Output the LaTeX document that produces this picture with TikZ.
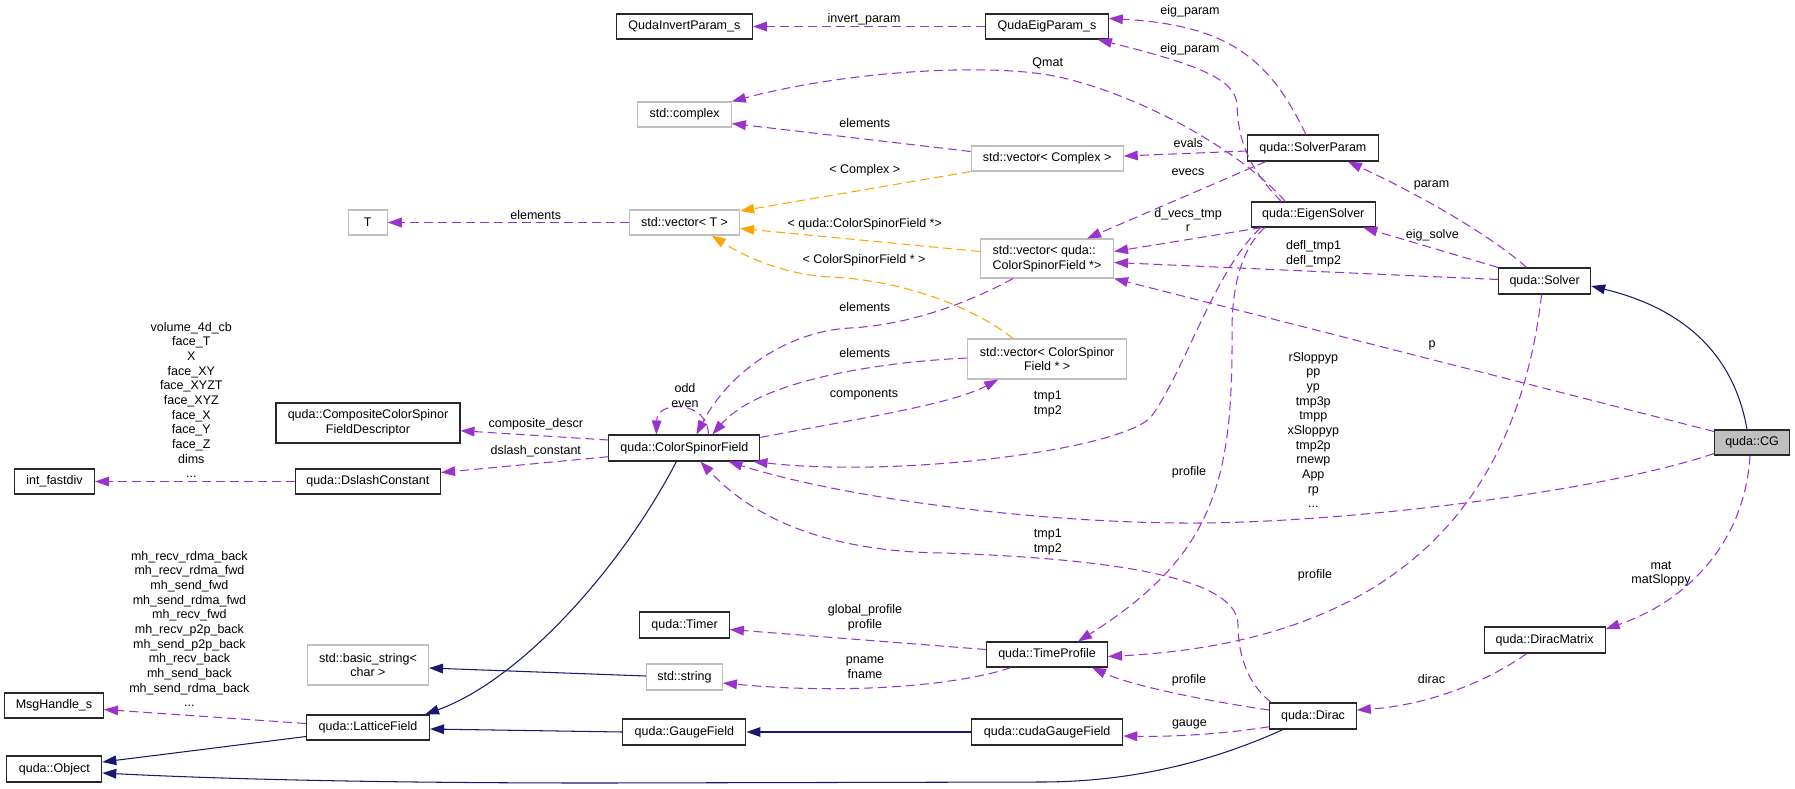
\documentclass[tikz,border=0pt]{standalone}
\usepackage{fontspec}
\setmainfont{Liberation Sans}
\usetikzlibrary{arrows.meta}
\definecolor{usec}{RGB}{154,50,205}
\definecolor{tmplc}{RGB}{255,165,0}
\definecolor{inhc}{RGB}{25,25,112}
\definecolor{grayb}{RGB}{191,191,191}
\definecolor{boxc}{RGB}{40,40,40}
\begin{document}
\begin{tikzpicture}[x=1pt,y=-1pt,
  cbox/.style={draw=boxc,line width=1.1pt,fill=white,inner sep=1pt,minimum height=25pt,
    font=\fontsize{12.5}{14.67}\selectfont,align=center},
  gbox/.style={cbox,draw=grayb},
  elbl/.style={inner sep=0pt,font=\fontsize{12.5}{14.67}\selectfont,align=center},
  usedge/.style={draw=usec,line width=1.05pt,dash pattern=on 9pt off 5pt,
    -{Triangle[length=14pt,width=10pt,fill=usec,line width=0pt]}},
  tpledge/.style={draw=tmplc,line width=1.05pt,dash pattern=on 9pt off 5pt,
    -{Triangle[length=14pt,width=10pt,fill=tmplc,line width=0pt]}},
  inhedge/.style={draw=inhc,line width=1.05pt,
    -{Triangle[length=14pt,width=10pt,fill=inhc,line width=0pt]}}]
\useasboundingbox[fill=white] (0,0) rectangle (1795,788);

% nodes
\node[cbox,minimum width=136pt] (qip) at (684.4,26.5) {QudaInvertParam\_s};
\node[cbox,minimum width=122.5pt] (qep) at (1047,26.5) {QudaEigParam\_s};
\node[gbox,minimum width=93.4pt] (cplx) at (684.6,114.5) {std::complex};
\node[gbox,minimum width=152pt] (vcplx) at (1047.2,158.5) {std::vector< Complex >};
\node[gbox,minimum width=39pt] (tT) at (367.7,222.5) {T};
\node[gbox,minimum width=110pt] (vT) at (684.6,222.5) {std::vector< T >};
\node[gbox,minimum width=133pt,minimum height=39pt,align=left] (vcsfq) at (1047,258.5) {std::vector< quda::\\ColorSpinorField *>};
\node[gbox,minimum width=159pt,minimum height=40pt] (vcsf) at (1047.2,359) {std::vector< ColorSpinor\\Field * >};
\node[cbox,minimum width=131pt,minimum height=26pt] (sp) at (1312.9,148) {quda::SolverParam};
\node[cbox,minimum width=124pt] (es) at (1313.3,214.5) {quda::EigenSolver};
\node[cbox,minimum width=92pt,minimum height=26pt] (sol) at (1544.6,281) {quda::Solver};
\node[cbox,minimum width=75pt,fill=grayb] (cg) at (1752,442.5) {quda::CG};
\node[cbox,minimum width=121pt,minimum height=26pt] (dm) at (1544.6,640) {quda::DiracMatrix};
\node[cbox,minimum width=86.5pt,minimum height=26pt] (dirac) at (1313,716) {quda::Dirac};
\node[cbox,minimum width=184pt,minimum height=40pt] (ccsfd) at (368,423) {quda::CompositeColorSpinor\\FieldDescriptor};
\node[cbox,minimum width=80pt] (ifd) at (54.5,481.5) {int\_fastdiv};
\node[cbox,minimum width=145.5pt] (dsc) at (367.8,481.5) {quda::DslashConstant};
\node[gbox,minimum width=121pt,minimum height=40pt] (bstr) at (368,665) {std::basic\_string<\\char >};
\node[cbox,minimum width=99pt] (msg) at (54,705.5) {MsgHandle\_s};
\node[cbox,minimum width=123pt] (lf) at (368,727.5) {quda::LatticeField};
\node[cbox,minimum width=95pt,minimum height=26pt] (obj) at (54.3,769) {quda::Object};
\node[cbox,minimum width=151pt,minimum height=26pt] (csf) at (684.4,448) {quda::ColorSpinorField};
\node[cbox,minimum width=89.5pt,minimum height=26pt] (tim) at (684.6,625) {quda::Timer};
\node[gbox,minimum width=76pt,minimum height=26pt] (str) at (684.4,677) {std::string};
\node[cbox,minimum width=121pt] (tp) at (1047,654.5) {quda::TimeProfile};
\node[cbox,minimum width=123pt,minimum height=26pt] (gf) at (684.4,732) {quda::GaugeField};
\node[cbox,minimum width=151pt,minimum height=26pt] (cgf) at (1047.2,732) {quda::cudaGaugeField};

% usage edges
\draw[usedge] (qep.west) -- (qip.east);
\draw[usedge] ([xshift=-7pt]sp.north) .. controls (1270,60) and (1230,25) .. ([yshift=8pt]qep.east);
\draw[usedge] ([xshift=-32pt]es.north) .. controls (1245,165) and (1238,135) .. (1237,105) .. controls (1236,80) and (1200,65) .. ([xshift=-11pt]qep.south east);
\draw[usedge] ([xshift=-28pt]es.north) .. controls (1240,150) and (1140,95) .. (1059,77) .. controls (994,62.6) and (850,70) .. (cplx.north east);
\draw[usedge] ([yshift=7pt]vcplx.west) -- ([yshift=-9pt]cplx.east);
\draw[usedge] ([yshift=-3pt]sp.west) -- ([yshift=2.5pt]vcplx.east);
\draw[usedge] ([xshift=19pt]sp.south west) -- ([xshift=40pt]vcsfq.north);
\draw[usedge] ([xshift=11pt]es.south west) -- ([yshift=7pt]vcsfq.east);
\draw[usedge] ([yshift=1.5pt]sol.west) -- ([yshift=-4pt]vcsfq.east);
\draw[usedge] ([yshift=-2pt]cg.north west) -- (vcsfq.south east);
\draw[usedge] ([xshift=10pt]es.south west) .. controls (1215,270) and (1185,370) .. (1151,417) .. controls (1120,450) and (900,478) .. ([xshift=-7pt]csf.south east);
\draw[usedge] ([xshift=14pt]es.south west) .. controls (1240,250) and (1232,290) .. (1232,330) .. controls (1233,480) and (1215,555) .. ([xshift=31pt]tp.north);
\draw[usedge] ([xshift=-3pt]sol.south) .. controls (1520,480) and (1420,640) .. ([yshift=-2pt]tp.east);
\draw[usedge] ([yshift=2pt]cg.south west) .. controls (1600,492) and (1350,522) .. (1200,523) .. controls (1050,524) and (850,500) .. ([xshift=44pt]csf.south);
\draw[usedge] ([xshift=2pt]dirac.north west) .. controls (1245,682) and (1238,650) .. (1238,625) .. controls (1238,585) and (1150,560) .. (944,553) .. controls (840,552) and (760,525) .. ([xshift=16pt]csf.south);
\draw[usedge] ([yshift=6pt]dirac.west) .. controls (1200,700) and (1130,685) .. ([xshift=-16pt]tp.south east);
\draw[usedge] ([yshift=-10.7pt]dirac.west) .. controls (1230,733) and (1180,737) .. ([yshift=-4pt]cgf.east);
\draw[usedge] ([xshift=-18pt]dm.south) .. controls (1490,680) and (1430,705) .. ([yshift=6pt]dirac.east);
\draw[usedge] ([xshift=-2pt]cg.south) .. controls (1745,540) and (1690,600) .. ([yshift=11pt]dm.east);
\draw[usedge] ([xshift=-18pt]sol.north) .. controls (1490,235) and (1420,195) .. ([xshift=35pt]sp.south);
\draw[usedge] (sol.north west) -- ([xshift=50pt]es.south);
\draw[usedge] ([xshift=-34pt]vcsfq.south) .. controls (970,302) and (910,325) .. (850,328) .. controls (790,331) and (730,370) .. ([xshift=12pt]csf.north);
\draw[usedge] ([yshift=1pt]vcsf.west) .. controls (880,362) and (760,380) .. ([xshift=28pt]csf.north);
\draw[usedge] ([yshift=-3pt]csf.north east) .. controls (850,420) and (950,405) .. ([xshift=-49pt]vcsf.south);
\draw[usedge] ([xshift=24pt]csf.north) .. controls (708,400) and (657,400) .. ([xshift=-28pt]csf.north);
\draw[usedge] ([yshift=8pt]csf.west) -- ([yshift=-7.7pt]ccsfd.east);
\draw[usedge] ([yshift=-8.7pt]csf.west) -- ([yshift=9pt]dsc.east);
\draw[usedge] (dsc.west) -- (ifd.east);
\draw[usedge] ([yshift=4pt]lf.west) -- ([yshift=-4pt]msg.east);
\draw[usedge] ([yshift=5pt]tp.west) -- ([yshift=-4.5pt]tim.east);
\draw[usedge] ([xshift=-36pt]tp.south) .. controls (960,685) and (850,695) .. ([yshift=-6pt]str.east);
\draw[usedge] (vT.west) -- (tT.east);

% template edges
\draw[tpledge] (vcplx.south west) -- ([yshift=11.5pt]vT.east);
\draw[tpledge] ([yshift=7pt]vcsfq.west) -- ([yshift=-6pt]vT.east);
\draw[tpledge] ([xshift=-34pt]vcsf.north) .. controls (970,305) and (900,280) .. (830,277) .. controls (790,275) and (750,260) .. ([xshift=27pt]vT.south);

% inheritance edges
\draw[inhedge] ([xshift=-5pt]cg.north) .. controls (1735,360) and (1690,310) .. ([yshift=-5pt]sol.east);
\draw[inhedge] ([xshift=-8pt]csf.south) .. controls (620,570) and (520,680) .. ([xshift=-5pt]lf.north east);
\draw[inhedge] ([yshift=1pt]str.west) -- ([yshift=-3pt]bstr.east);
\draw[inhedge] (gf.west) -- ([yshift=-1.5pt]lf.east);
\draw[inhedge] (cgf.west) -- (gf.east);
\draw[inhedge] ([yshift=-9pt]lf.west) -- ([yshift=7pt]obj.east);
\draw[inhedge] ([xshift=-30pt]dirac.south) .. controls (1220,758) and (1140,782) .. (1040,782) -- (600,783) .. controls (350,783) and (200,778) .. ([yshift=-4pt]obj.east);

% labels
\node[elbl] (l1) at (864,19) {invert\_param};
\node[elbl] (l2) at (1190,11) {eig\_param};
\node[elbl] (l3) at (1190,49) {eig\_param};
\node[elbl] (l4) at (1047.7,63) {Qmat};
\node[elbl] (l5) at (864.8,122.7) {elements};
\node[elbl] (l6) at (1188.3,143.3) {evals};
\node[elbl] (l7) at (864.8,170.7) {< Complex >};
\node[elbl] (l8) at (1188,171.7) {evecs};
\node[elbl] (l9) at (535.7,215) {elements};
\node[elbl] (l10) at (1188,220) {d\_vecs\_tmp\\r};
\node[elbl] (l11) at (864.8,224.3) {< quda::ColorSpinorField *>};
\node[elbl] (l12) at (1431.5,185) {param};
\node[elbl] (l13) at (1432.3,235) {eig\_solve};
\node[elbl] (l14) at (1313.5,253.5) {defl\_tmp1\\defl\_tmp2};
\node[elbl] (l15) at (864,260.7) {< ColorSpinorField * >};
\node[elbl] (l16) at (864.8,306.7) {elements};
\node[elbl] (l17) at (1432,345) {p};
\node[elbl] (l18) at (864.8,352.7) {elements};
\node[elbl] (l19) at (685,395.3) {odd\\even};
\node[elbl] (l20) at (864,394.7) {components};
\node[elbl] (l21) at (1047.8,404.2) {tmp1\\tmp2};
\node[elbl] (l22) at (1313.3,430) {rSloppyp\\pp\\yp\\tmp3p\\tmpp\\xSloppyp\\tmp2p\\rnewp\\App\\rp\\...};
\node[elbl] (l23) at (191.3,400) {volume\_4d\_cb\\face\_T\\X\\face\_XY\\face\_XYZT\\face\_XYZ\\face\_X\\face\_Y\\face\_Z\\dims\\...};
\node[elbl] (l24) at (535.8,424) {composite\_descr};
\node[elbl] (l25) at (535.8,451) {dslash\_constant};
\node[elbl] (l26) at (1189,472.7) {profile};
\node[elbl] (l27) at (1047.8,542) {tmp1\\tmp2};
\node[elbl] (l28) at (1661,573.7) {mat\\matSloppy};
\node[elbl] (l29) at (1315,575.3) {profile};
\node[elbl] (l30) at (865,617.7) {global\_profile\\profile};
\node[elbl] (l31) at (189.4,629) {mh\_recv\_rdma\_back\\mh\_recv\_rdma\_fwd\\mh\_send\_fwd\\mh\_send\_rdma\_fwd\\mh\_recv\_fwd\\mh\_recv\_p2p\_back\\mh\_send\_p2p\_back\\mh\_recv\_back\\mh\_send\_back\\mh\_send\_rdma\_back\\...};
\node[elbl] (l32) at (865,668) {pname\\fname};
\node[elbl] (l33) at (1431.5,679.3) {dirac};
\node[elbl] (l34) at (1189,680) {profile};
\node[elbl] (l35) at (1189.4,724) {gauge};
\end{tikzpicture}
\end{document}
